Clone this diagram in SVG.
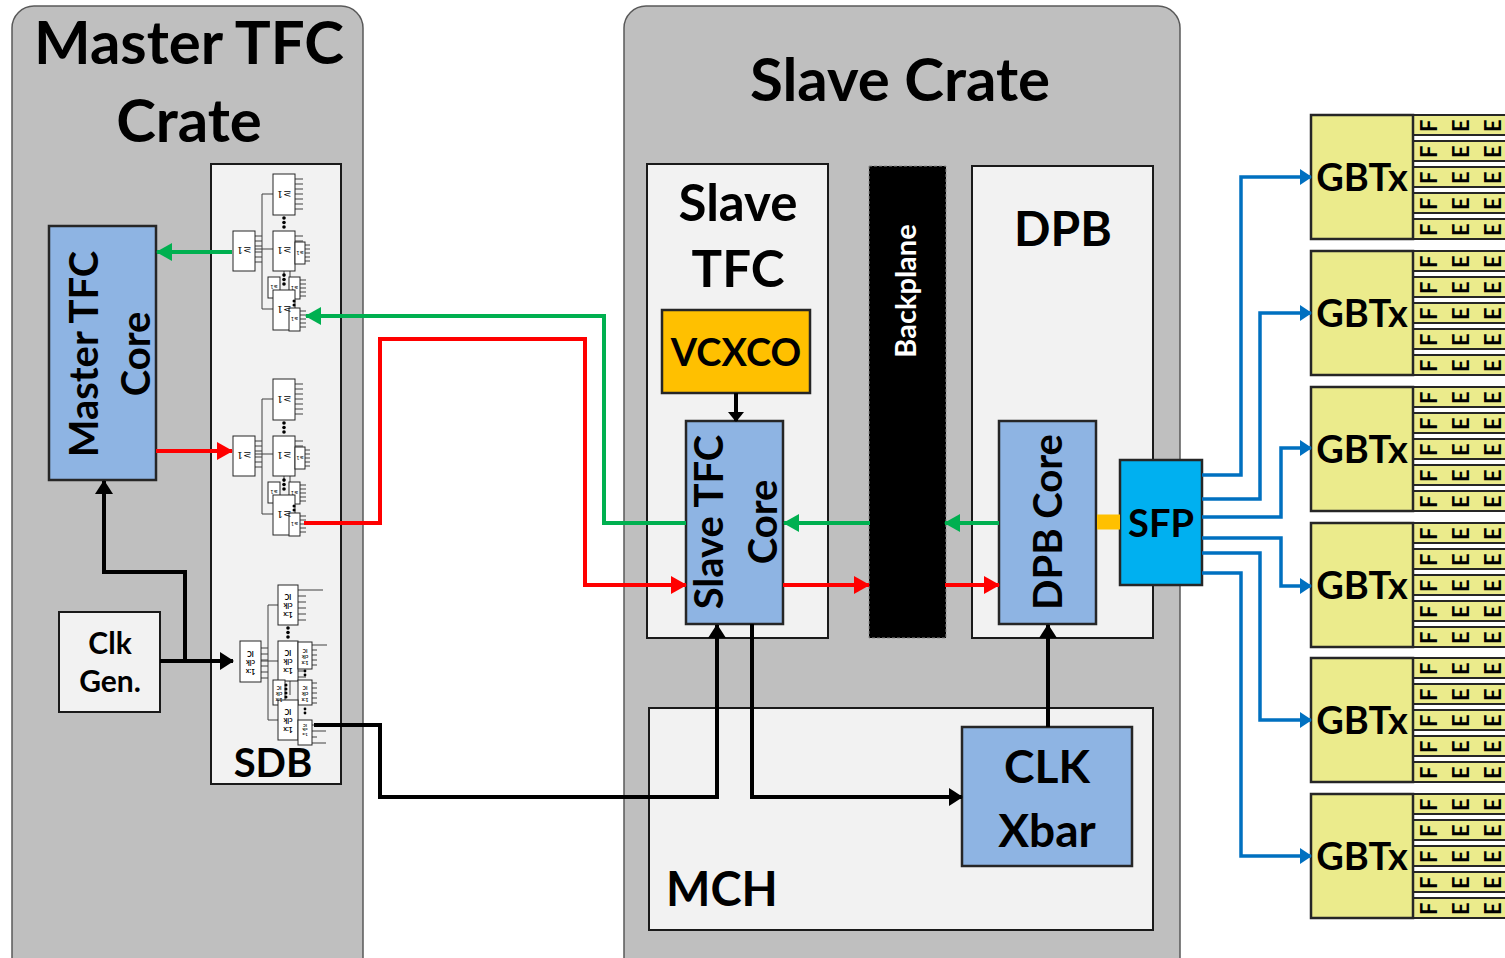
<svg xmlns="http://www.w3.org/2000/svg" width="1505" height="958" viewBox="0 0 1505 958">
<defs>
<style>
text{font-family:Lato,"Open Sans","Liberation Sans",sans-serif;font-weight:700;fill:#000}
.crate{fill:#bfbfbf;stroke:#595959;stroke-width:1.5}
.panel{fill:#f2f2f2;stroke:#1a1a1a;stroke-width:2}
.core{fill:#8eb4e3;stroke:#262626;stroke-width:2.5}
.gbt{fill:#ebeb8c;stroke:#262626;stroke-width:2.5}
.strip{fill:#ebeb8c;stroke:#262626;stroke-width:2}
.fee{font-size:22px}
.chip{fill:#fff;stroke:#262626;stroke-width:1}
.pin{fill:none;stroke:#404040;stroke-width:1}
.ct{font-family:"DejaVu Serif",serif;font-weight:400;font-size:10px}
.cs{font-family:"DejaVu Sans",sans-serif;font-weight:400;font-size:5px}
.g{fill:none;stroke:#00b050;stroke-width:4}
.r{fill:none;stroke:#ff0000;stroke-width:4}
.k{fill:none;stroke:#000;stroke-width:4}
.b{fill:none;stroke:#0070c0;stroke-width:3.5}
</style>
<marker id="aG" markerUnits="userSpaceOnUse" markerWidth="16" markerHeight="18" refX="15" refY="9" orient="auto"><path d="M0,0 L16,9 L0,18 z" fill="#00b050"/></marker>
<marker id="aR" markerUnits="userSpaceOnUse" markerWidth="16" markerHeight="18" refX="15" refY="9" orient="auto"><path d="M0,0 L16,9 L0,18 z" fill="#ff0000"/></marker>
<marker id="aK" markerUnits="userSpaceOnUse" markerWidth="14" markerHeight="18" refX="13" refY="9" orient="auto"><path d="M0,0 L14,9 L0,18 z" fill="#000"/></marker>
<marker id="aKs" markerUnits="userSpaceOnUse" markerWidth="10" markerHeight="16" refX="9" refY="8" orient="auto"><path d="M0,0 L10,8 L0,16 z" fill="#000"/></marker>
<marker id="aB" markerUnits="userSpaceOnUse" markerWidth="12" markerHeight="16" refX="11" refY="8" orient="auto"><path d="M0,0 L12,8 L0,16 z" fill="#0070c0"/></marker>
</defs>

<rect width="1505" height="958" fill="#fff"/>

<g id="master-crate">
<rect class="crate" x="12" y="6" width="351" height="990" rx="22"/>
<text x="189" y="64" font-size="60" text-anchor="middle">Master TFC</text>
<text x="189" y="142" font-size="60" text-anchor="middle">Crate</text>
</g>

<g id="slave-crate">
<rect class="crate" x="624" y="6" width="556" height="990" rx="22"/>
<text x="900" y="101" font-size="60" text-anchor="middle">Slave Crate</text>
</g>

<g id="sdb">
<rect class="panel" x="211" y="164" width="130" height="620"/>
<text x="273" y="777" font-size="40" text-anchor="middle">SDB</text>
<g transform="translate(210,165)">
<path class="pin" d="M45,71h7M45,76h7M45,81h7M45,87h7M45,92h7M45,97h7M63,29H52V144H63M45,84H63M85,14h8M85,19h8M85,24h8M85,29h8M85,34h8M85,39h8M85,44h8M85,71h8M85,76h8M85,81h8M85,86h8M85,91h8M85,96h8M95,80h5M95,84h5M95,88h5M95,92h5M95,96h5M90,115h6M90,119h6M90,123h6M90,127h6M90,131h6M90,146h6M90,150h6M90,154h6M90,158h6M90,162h6M74,100V112M74,140V155M80,95V112"/>
<rect class="chip" x="23" y="66" width="22" height="40"/>
<rect class="chip" x="63" y="9" width="22" height="41"/>
<rect class="chip" x="63" y="66" width="22" height="40"/>
<rect class="chip" x="85" y="77" width="10" height="22"/>
<rect class="chip" x="58" y="112" width="12" height="21"/>
<rect class="chip" x="79" y="112" width="11" height="22"/>
<rect class="chip" x="63" y="125" width="22" height="40"/>
<rect class="chip" x="79" y="143" width="11" height="23"/>
<g fill="#000"><circle cx="74" cy="53" r="1.8"/><circle cx="74" cy="57.5" r="1.8"/><circle cx="74" cy="62" r="1.8"/><circle cx="74" cy="110" r="1.8"/><circle cx="74" cy="114.5" r="1.8"/><circle cx="74" cy="119" r="1.8"/><circle cx="84" cy="136" r="1.5"/><circle cx="84" cy="140" r="1.5"/></g>
<text class="ct" transform="rotate(180,34,86)" x="34" y="90" text-anchor="middle">≥1</text>
<text class="ct" transform="rotate(180,74,29.5)" x="74" y="33.5" text-anchor="middle">≥1</text>
<text class="ct" transform="rotate(180,74,86)" x="74" y="90" text-anchor="middle">≥1</text>
<text class="ct" transform="rotate(180,74,145)" x="74" y="149" text-anchor="middle">≥1</text>
<text class="cs" transform="rotate(180,90,88)" x="90" y="90" text-anchor="middle">≥1</text>
<text class="cs" transform="rotate(180,64,122)" x="64" y="124" text-anchor="middle">≥1</text>
<text class="cs" transform="rotate(180,84.5,123)" x="84.5" y="125" text-anchor="middle">≥1</text>
<text class="cs" transform="rotate(180,84.5,154)" x="84.5" y="156" text-anchor="middle">≥1</text>
</g>
<g transform="translate(210,370)">
<path class="pin" d="M45,71h7M45,76h7M45,81h7M45,87h7M45,92h7M45,97h7M63,29H52V144H63M45,84H63M85,14h8M85,19h8M85,24h8M85,29h8M85,34h8M85,39h8M85,44h8M85,71h8M85,76h8M85,81h8M85,86h8M85,91h8M85,96h8M95,80h5M95,84h5M95,88h5M95,92h5M95,96h5M90,115h6M90,119h6M90,123h6M90,127h6M90,131h6M90,146h6M90,150h6M90,154h6M90,158h6M90,162h6M74,100V112M74,140V155M80,95V112"/>
<rect class="chip" x="23" y="66" width="22" height="40"/>
<rect class="chip" x="63" y="9" width="22" height="41"/>
<rect class="chip" x="63" y="66" width="22" height="40"/>
<rect class="chip" x="85" y="77" width="10" height="22"/>
<rect class="chip" x="58" y="112" width="12" height="21"/>
<rect class="chip" x="79" y="112" width="11" height="22"/>
<rect class="chip" x="63" y="125" width="22" height="40"/>
<rect class="chip" x="79" y="143" width="11" height="23"/>
<g fill="#000"><circle cx="74" cy="53" r="1.8"/><circle cx="74" cy="57.5" r="1.8"/><circle cx="74" cy="62" r="1.8"/><circle cx="74" cy="110" r="1.8"/><circle cx="74" cy="114.5" r="1.8"/><circle cx="74" cy="119" r="1.8"/><circle cx="84" cy="136" r="1.5"/><circle cx="84" cy="140" r="1.5"/></g>
<text class="ct" transform="rotate(180,34,86)" x="34" y="90" text-anchor="middle">≥1</text>
<text class="ct" transform="rotate(180,74,29.5)" x="74" y="33.5" text-anchor="middle">≥1</text>
<text class="ct" transform="rotate(180,74,86)" x="74" y="90" text-anchor="middle">≥1</text>
<text class="ct" transform="rotate(180,74,145)" x="74" y="149" text-anchor="middle">≥1</text>
<text class="cs" transform="rotate(180,90,88)" x="90" y="90" text-anchor="middle">≥1</text>
<text class="cs" transform="rotate(180,64,122)" x="64" y="124" text-anchor="middle">≥1</text>
<text class="cs" transform="rotate(180,84.5,123)" x="84.5" y="125" text-anchor="middle">≥1</text>
<text class="cs" transform="rotate(180,84.5,154)" x="84.5" y="156" text-anchor="middle">≥1</text>
</g>
<g transform="translate(210,575)">
<path class="pin" d="M51,73h7M51,79h7M51,85h7M51,91h7M51,97h7M51,103h7M68,30H58V145H68M51,86H68M88,15h25M88,21h8M88,27h8M88,33h8M88,39h8M88,45h8M88,72h8M88,78h8M88,84h8M88,90h8M88,96h8M88,102h8M102,70h15M102,75h5M102,80h5M102,85h5M102,90h5M102,108h5M102,113h5M102,118h5M102,123h5M102,128h5M102,150h4M102,156h14M102,162h5M102,168h14M80,100V120M79,130V145"/>
<rect class="chip" x="30" y="66" width="21" height="41"/>
<rect class="chip" x="68" y="10" width="20" height="40"/>
<rect class="chip" x="68" y="66" width="20" height="40"/>
<rect class="chip" x="88" y="67" width="14" height="27"/>
<rect class="chip" x="63" y="105" width="12" height="25"/>
<rect class="chip" x="88" y="105" width="14" height="25"/>
<rect class="chip" x="68" y="125" width="20" height="40"/>
<rect class="chip" x="88" y="145" width="14" height="25"/>
<g fill="#000"><circle cx="78" cy="53" r="1.8"/><circle cx="78" cy="57.5" r="1.8"/><circle cx="78" cy="62" r="1.8"/><circle cx="76" cy="110" r="1.5"/><circle cx="76" cy="114" r="1.5"/><circle cx="76" cy="118" r="1.5"/><circle cx="76" cy="122" r="1.5"/><circle cx="95" cy="96" r="1.4"/><circle cx="95" cy="100" r="1.4"/><circle cx="95" cy="134" r="1.4"/><circle cx="95" cy="138" r="1.4"/></g>
<g font-family="DejaVu Serif,serif" font-weight="400" font-size="7" text-anchor="middle">
<text transform="rotate(180,40.5,86.5)" x="40.5" y="86.5"><tspan x="40.5" dy="-7">1:x</tspan><tspan x="40.5" dy="9">clk</tspan><tspan x="40.5" dy="9">IC</tspan></text>
<text transform="rotate(180,78,30)" x="78" y="30"><tspan x="78" dy="-7">1:x</tspan><tspan x="78" dy="9">clk</tspan><tspan x="78" dy="9">IC</tspan></text>
<text transform="rotate(180,78,86)" x="78" y="86"><tspan x="78" dy="-7">1:x</tspan><tspan x="78" dy="9">clk</tspan><tspan x="78" dy="9">IC</tspan></text>
<text transform="rotate(180,78,145)" x="78" y="145"><tspan x="78" dy="-7">1:x</tspan><tspan x="78" dy="9">clk</tspan><tspan x="78" dy="9">IC</tspan></text>
</g>
<g font-family="DejaVu Serif,serif" font-weight="400" font-size="5" text-anchor="middle">
<text transform="rotate(180,95,80.5)" x="95" y="80.5"><tspan x="95" dy="-5">1:x</tspan><tspan x="95" dy="6">clk</tspan><tspan x="95" dy="6">IC</tspan></text>
<text transform="rotate(180,69,117.5)" x="69" y="117.5"><tspan x="69" dy="-5">1:x</tspan><tspan x="69" dy="6">clk</tspan><tspan x="69" dy="6">IC</tspan></text>
<text transform="rotate(180,95,117.5)" x="95" y="117.5"><tspan x="95" dy="-5">1:x</tspan><tspan x="95" dy="6">clk</tspan><tspan x="95" dy="6">IC</tspan></text>
</g>
<g font-family="DejaVu Serif,serif" font-weight="400" font-size="4" text-anchor="middle">
<text transform="rotate(180,95,154)" x="95" y="154"><tspan x="95" dy="-3.5">1:x</tspan><tspan x="95" dy="4.5">clk</tspan><tspan x="95" dy="4.5">IC</tspan></text>
</g>
</g>
</g>

<g id="master-tfc-core">
<rect class="core" x="49" y="226" width="107" height="254"/>
<text transform="translate(102,354) rotate(-90)" font-size="40" text-anchor="middle"><tspan x="0" y="-4">Master TFC</tspan><tspan x="0" y="48">Core</tspan></text>
</g>

<g id="clk-gen">
<rect class="panel" x="59" y="612" width="101" height="100"/>
<text x="110" y="654" font-size="30" text-anchor="middle">Clk</text>
<text x="110" y="692" font-size="30" text-anchor="middle">Gen.</text>
</g>

<g id="slave-tfc">
<rect class="panel" x="647" y="164" width="181" height="474"/>
<text x="738" y="221" font-size="51" text-anchor="middle">Slave</text>
<text x="738" y="287" font-size="51" text-anchor="middle">TFC</text>
</g>

<g id="vcxco">
<rect x="662" y="310" width="148" height="83" fill="#ffc000" stroke="#262626" stroke-width="2.5"/>
<text x="736" y="366" font-size="38" text-anchor="middle">VCXCO</text>
</g>

<g id="slave-tfc-core">
<rect class="core" x="686" y="421" width="97" height="203"/>
<text transform="translate(734,522) rotate(-90)" font-size="40" text-anchor="middle"><tspan x="0" y="-11">Slave TFC</tspan><tspan x="0" y="43">Core</tspan></text>
</g>

<g id="backplane">
<rect x="869" y="166" width="77" height="472" fill="#000" stroke="#8c8c8c" stroke-width="1" stroke-dasharray="3,2"/>
<text transform="translate(916,291) rotate(-90)" font-size="29" text-anchor="middle" style="fill:#fff">Backplane</text>
</g>

<g id="dpb">
<rect class="panel" x="972" y="166" width="181" height="472"/>
<text x="1063" y="246" font-size="48" text-anchor="middle">DPB</text>
</g>

<g id="dpb-core">
<rect class="core" x="999" y="421" width="97" height="203"/>
<text transform="translate(1048,522) rotate(-90)" font-size="40" text-anchor="middle"><tspan x="0" y="14">DPB Core</tspan></text>
</g>

<g id="sfp">
<rect x="1120" y="460" width="82" height="125" fill="#00b0f0" stroke="#262626" stroke-width="2.5"/>
<text x="1161" y="537" font-size="38" text-anchor="middle">SFP</text>
</g>

<g id="mch">
<rect class="panel" x="649" y="708" width="504" height="222"/>
<text x="666" y="906" font-size="47">MCH</text>
</g>

<g id="clk-xbar">
<rect class="core" x="962" y="727" width="170" height="139"/>
<text x="1047" y="783" font-size="46" text-anchor="middle">CLK</text>
<text x="1047" y="847" font-size="46" text-anchor="middle">Xbar</text>
</g>

<g id="gbtx-1">
<rect class="strip" x="1413" y="115" width="100" height="20"/><rect class="strip" x="1413" y="141" width="100" height="20"/><rect class="strip" x="1413" y="167" width="100" height="20"/><rect class="strip" x="1413" y="193" width="100" height="20"/><rect class="strip" x="1413" y="219" width="100" height="20"/>
<text class="fee" x="1437 1469 1501" y="132" rotate="-90">FEE</text><text class="fee" x="1437 1469 1501" y="158" rotate="-90">FEE</text><text class="fee" x="1437 1469 1501" y="184" rotate="-90">FEE</text><text class="fee" x="1437 1469 1501" y="210" rotate="-90">FEE</text><text class="fee" x="1437 1469 1501" y="236" rotate="-90">FEE</text>
<rect class="gbt" x="1311" y="115" width="102" height="124"/>
<text x="1362" y="191" font-size="38" text-anchor="middle">GBTx</text>
</g>
<g id="gbtx-2">
<rect class="strip" x="1413" y="251" width="100" height="20"/><rect class="strip" x="1413" y="277" width="100" height="20"/><rect class="strip" x="1413" y="303" width="100" height="20"/><rect class="strip" x="1413" y="329" width="100" height="20"/><rect class="strip" x="1413" y="355" width="100" height="20"/>
<text class="fee" x="1437 1469 1501" y="268" rotate="-90">FEE</text><text class="fee" x="1437 1469 1501" y="294" rotate="-90">FEE</text><text class="fee" x="1437 1469 1501" y="320" rotate="-90">FEE</text><text class="fee" x="1437 1469 1501" y="346" rotate="-90">FEE</text><text class="fee" x="1437 1469 1501" y="372" rotate="-90">FEE</text>
<rect class="gbt" x="1311" y="251" width="102" height="124"/>
<text x="1362" y="327" font-size="38" text-anchor="middle">GBTx</text>
</g>
<g id="gbtx-3">
<rect class="strip" x="1413" y="387" width="100" height="20"/><rect class="strip" x="1413" y="413" width="100" height="20"/><rect class="strip" x="1413" y="439" width="100" height="20"/><rect class="strip" x="1413" y="465" width="100" height="20"/><rect class="strip" x="1413" y="491" width="100" height="20"/>
<text class="fee" x="1437 1469 1501" y="404" rotate="-90">FEE</text><text class="fee" x="1437 1469 1501" y="430" rotate="-90">FEE</text><text class="fee" x="1437 1469 1501" y="456" rotate="-90">FEE</text><text class="fee" x="1437 1469 1501" y="482" rotate="-90">FEE</text><text class="fee" x="1437 1469 1501" y="508" rotate="-90">FEE</text>
<rect class="gbt" x="1311" y="387" width="102" height="124"/>
<text x="1362" y="463" font-size="38" text-anchor="middle">GBTx</text>
</g>
<g id="gbtx-4">
<rect class="strip" x="1413" y="523" width="100" height="20"/><rect class="strip" x="1413" y="549" width="100" height="20"/><rect class="strip" x="1413" y="575" width="100" height="20"/><rect class="strip" x="1413" y="601" width="100" height="20"/><rect class="strip" x="1413" y="627" width="100" height="20"/>
<text class="fee" x="1437 1469 1501" y="540" rotate="-90">FEE</text><text class="fee" x="1437 1469 1501" y="566" rotate="-90">FEE</text><text class="fee" x="1437 1469 1501" y="592" rotate="-90">FEE</text><text class="fee" x="1437 1469 1501" y="618" rotate="-90">FEE</text><text class="fee" x="1437 1469 1501" y="644" rotate="-90">FEE</text>
<rect class="gbt" x="1311" y="523" width="102" height="124"/>
<text x="1362" y="599" font-size="38" text-anchor="middle">GBTx</text>
</g>
<g id="gbtx-5">
<rect class="strip" x="1413" y="658" width="100" height="20"/><rect class="strip" x="1413" y="684" width="100" height="20"/><rect class="strip" x="1413" y="710" width="100" height="20"/><rect class="strip" x="1413" y="736" width="100" height="20"/><rect class="strip" x="1413" y="762" width="100" height="20"/>
<text class="fee" x="1437 1469 1501" y="675" rotate="-90">FEE</text><text class="fee" x="1437 1469 1501" y="701" rotate="-90">FEE</text><text class="fee" x="1437 1469 1501" y="727" rotate="-90">FEE</text><text class="fee" x="1437 1469 1501" y="753" rotate="-90">FEE</text><text class="fee" x="1437 1469 1501" y="779" rotate="-90">FEE</text>
<rect class="gbt" x="1311" y="658" width="102" height="124"/>
<text x="1362" y="734" font-size="38" text-anchor="middle">GBTx</text>
</g>
<g id="gbtx-6">
<rect class="strip" x="1413" y="794" width="100" height="20"/><rect class="strip" x="1413" y="820" width="100" height="20"/><rect class="strip" x="1413" y="846" width="100" height="20"/><rect class="strip" x="1413" y="872" width="100" height="20"/><rect class="strip" x="1413" y="898" width="100" height="20"/>
<text class="fee" x="1437 1469 1501" y="811" rotate="-90">FEE</text><text class="fee" x="1437 1469 1501" y="837" rotate="-90">FEE</text><text class="fee" x="1437 1469 1501" y="863" rotate="-90">FEE</text><text class="fee" x="1437 1469 1501" y="889" rotate="-90">FEE</text><text class="fee" x="1437 1469 1501" y="915" rotate="-90">FEE</text>
<rect class="gbt" x="1311" y="794" width="102" height="124"/>
<text x="1362" y="870" font-size="38" text-anchor="middle">GBTx</text>
</g>

<g id="connectors">
<path class="g" d="M232,252H157" marker-end="url(#aG)"/>
<path class="r" d="M156,451H232" marker-end="url(#aR)"/>
<path class="g" d="M686,523H604V316H306" marker-end="url(#aG)"/>
<path class="r" d="M304,523H380V339H585V585H686" marker-end="url(#aR)"/>
<path class="k" d="M160,661H233" marker-end="url(#aK)"/>
<path class="k" d="M185,661V572H104V481" marker-end="url(#aK)"/>
<path class="k" d="M314,725H380V797H717V625" marker-end="url(#aK)"/>
<path class="k" d="M752,624V797H962" marker-end="url(#aK)"/>
<path class="k" d="M1048,727V625" marker-end="url(#aK)"/>
<path class="k" d="M736,393V421" stroke-width="3" marker-end="url(#aKs)"/>
<path class="g" d="M870,523H784" marker-end="url(#aG)"/>
<path class="g" d="M999,523H945" marker-end="url(#aG)"/>
<path class="r" d="M783,585H869" marker-end="url(#aR)"/>
<path class="r" d="M945,585H999" marker-end="url(#aR)"/>
<path d="M1097,522H1120" stroke="#ffc000" stroke-width="15" fill="none"/>
<path class="b" d="M1202,475H1241V177H1311" marker-end="url(#aB)"/>
<path class="b" d="M1202,499H1260V313H1311" marker-end="url(#aB)"/>
<path class="b" d="M1202,517H1281V448H1311" marker-end="url(#aB)"/>
<path class="b" d="M1202,538H1281V586H1311" marker-end="url(#aB)"/>
<path class="b" d="M1202,553H1260V720H1311" marker-end="url(#aB)"/>
<path class="b" d="M1202,573H1241V856H1311" marker-end="url(#aB)"/>
</g>
</svg>
